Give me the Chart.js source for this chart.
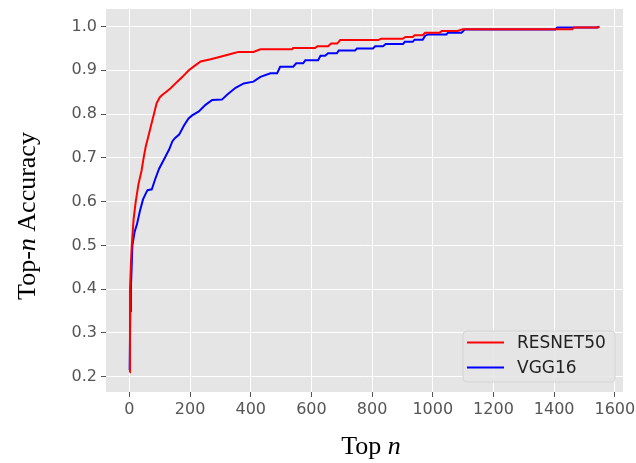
<!DOCTYPE html>
<html>
<head>
<meta charset="utf-8">
<script src="https://cdn.jsdelivr.net/npm/chart.js@4/dist/chart.umd.min.js"></script>
<style>
  html, body { margin: 0; padding: 0; background: #fff; }
  canvas { display: block; }
</style>
</head>
<body>
<canvas id="accChart" width="636" height="463"></canvas>
<script>
// values
const resnetN = [1, 2, 5, 8, 14, 21, 30, 40, 47, 54, 60, 70, 81, 90, 100, 109, 120, 136, 158, 175, 196, 215, 235, 268, 300, 343, 360, 409, 432, 536, 540, 612, 620, 655, 665, 685, 695, 820, 830, 901, 910, 934, 940, 967, 975, 1023, 1030, 1082, 1099, 1460, 1465, 1545, 1550];
const resnetAcc = [0.21, 0.40, 0.46, 0.50, 0.56, 0.60, 0.64, 0.67, 0.70, 0.726, 0.742, 0.77, 0.80, 0.825, 0.838, 0.844, 0.85, 0.859, 0.874, 0.885, 0.90, 0.91, 0.92, 0.925, 0.931, 0.939, 0.942, 0.942, 0.948, 0.948, 0.951, 0.951, 0.955, 0.955, 0.961, 0.961, 0.969, 0.969, 0.972, 0.972, 0.976, 0.976, 0.98, 0.98, 0.986, 0.986, 0.99, 0.99, 0.994, 0.994, 0.998, 0.998, 1.0];

const vggN = [1, 3, 5, 10, 17, 25, 35, 45, 55, 60, 74, 85, 98, 114, 131, 142, 150, 164, 180, 195, 207, 229, 251, 273, 305, 322, 350, 377, 409, 432, 465, 487, 497, 540, 550, 573, 580, 622, 630, 645, 655, 684, 690, 744, 750, 803, 810, 836, 845, 902, 908, 934, 940, 967, 975, 985, 1045, 1050, 1095, 1105, 1404, 1410, 1542, 1547];
const vggAcc = [0.215, 0.35, 0.40, 0.50, 0.53, 0.548, 0.579, 0.605, 0.62, 0.626, 0.628, 0.651, 0.675, 0.696, 0.719, 0.738, 0.745, 0.753, 0.774, 0.79, 0.797, 0.806, 0.821, 0.832, 0.833, 0.844, 0.86, 0.87, 0.874, 0.885, 0.893, 0.893, 0.908, 0.908, 0.916, 0.916, 0.923, 0.923, 0.933, 0.933, 0.939, 0.939, 0.945, 0.945, 0.95, 0.95, 0.955, 0.955, 0.96, 0.96, 0.965, 0.965, 0.97, 0.97, 0.979, 0.982, 0.982, 0.986, 0.986, 0.993, 0.993, 0.998, 0.998, 1.0];

const seriesLabels = ['RESNET50', 'VGG16'];
const xTicks = [0, 200, 400, 600, 800, 1000, 1200, 1400, 1600];
const yTicks = [0.2, 0.3, 0.4, 0.5, 0.6, 0.7, 0.8, 0.9, 1.0];

const toPoints = (xs, ys) => xs.map((x, i) => ({ x: x, y: ys[i] }));

// grey ggplot-like panel behind the data
const panelBg = {
  id: 'panelBg',
  beforeDraw(chart) {
    const { ctx, chartArea: a } = chart;
    ctx.save();
    ctx.fillStyle = '#E5E5E5';
    ctx.fillRect(a.left, a.top, a.right - a.left, a.bottom - a.top);
    ctx.restore();
  }
};

// axis titles with italic n, plus the legend box
const extras = {
  id: 'extras',
  afterDraw(chart) {
    const { ctx } = chart;
    const serif = '"Liberation Serif", "Times New Roman", serif';
    ctx.save();
    ctx.fillStyle = '#000';
    ctx.textBaseline = 'middle';

    // x title: "Top n"
    ctx.font = '26px ' + serif;
    const w1 = ctx.measureText('Top ').width;
    ctx.font = 'italic 26px ' + serif;
    const w2 = ctx.measureText('n').width;
    let x0 = 371 - (w1 + w2) / 2;
    ctx.textAlign = 'left';
    ctx.font = '26px ' + serif;
    ctx.fillText('Top ', x0, 447);
    ctx.font = 'italic 26px ' + serif;
    ctx.fillText('n', x0 + w1, 447);

    // y title: "Top-n Accuracy"
    ctx.save();
    ctx.translate(28, 216);
    ctx.rotate(-Math.PI / 2);
    ctx.font = '26px ' + serif;
    const p1 = ctx.measureText('Top-').width;
    const p3 = ctx.measureText(' Accuracy').width;
    ctx.font = 'italic 26px ' + serif;
    const p2 = ctx.measureText('n').width;
    let s = -(p1 + p2 + p3) / 2;
    ctx.font = '26px ' + serif;
    ctx.fillText('Top-', s, 0);
    ctx.font = 'italic 26px ' + serif;
    ctx.fillText('n', s + p1, 0);
    ctx.font = '26px ' + serif;
    ctx.fillText(' Accuracy', s + p1 + p2, 0);
    ctx.restore();

    // legend
    const bx = 463, by = 331, bw = 152, bh = 51, r = 4;
    ctx.beginPath();
    ctx.moveTo(bx + r, by);
    ctx.arcTo(bx + bw, by, bx + bw, by + bh, r);
    ctx.arcTo(bx + bw, by + bh, bx, by + bh, r);
    ctx.arcTo(bx, by + bh, bx, by, r);
    ctx.arcTo(bx, by, bx + bw, by, r);
    ctx.closePath();
    ctx.fillStyle = 'rgba(229,229,229,0.85)';
    ctx.fill();
    ctx.strokeStyle = '#D4D4D4';
    ctx.lineWidth = 1;
    ctx.stroke();

    ctx.font = '17px "DejaVu Sans", sans-serif';
    chart.data.datasets.forEach((ds, i) => {
      const ly = 342.5 + i * 25;
      ctx.strokeStyle = ds.borderColor;
      ctx.lineWidth = 2;
      ctx.beginPath();
      ctx.moveTo(467, ly);
      ctx.lineTo(504, ly);
      ctx.stroke();
      ctx.fillStyle = '#222';
      ctx.fillText(ds.label, 517, ly + 1);
    });
    ctx.restore();
  }
};

const ctx = document.getElementById('accChart').getContext('2d');

new Chart(ctx, {
  type: 'line',
  data: {
    datasets: [
      {
        label: seriesLabels[0],
        data: toPoints(resnetN, resnetAcc),
        borderColor: '#FF0000',
        borderWidth: 2,
        pointRadius: 0,
        tension: 0,
        fill: false
      },
      {
        label: seriesLabels[1],
        data: toPoints(vggN, vggAcc),
        borderColor: '#0000FF',
        borderWidth: 2,
        pointRadius: 0,
        tension: 0,
        fill: false
      }
    ]
  },
  options: {
    responsive: false,
    animation: false,
    layout: { padding: { left: 0, right: 13, top: 9, bottom: 0 } },
    plugins: {
      legend: { display: false },
      tooltip: { enabled: false }
    },
    scales: {
      x: {
        type: 'linear',
        min: -77,
        max: 1627,
        afterBuildTicks: axis => { axis.ticks = xTicks.map(v => ({ value: v })); },
        afterFit: scale => { scale.height = 71; scale.paddingLeft = 0; scale.paddingRight = 0; },
        grid: { color: '#FFFFFF', lineWidth: 1, tickColor: '#555', tickLength: 5 },
        border: { display: false },
        ticks: {
          color: '#555',
          font: { family: 'DejaVu Sans', size: 16 },
          padding: 3,
          maxRotation: 0,
          callback: v => String(v)
        }
      },
      y: {
        type: 'linear',
        min: 0.165,
        max: 1.04,
        afterBuildTicks: axis => { axis.ticks = yTicks.map(v => ({ value: v })); },
        afterFit: scale => { scale.width = 106; scale.paddingTop = 0; scale.paddingBottom = 0; },
        grid: { color: '#FFFFFF', lineWidth: 1, tickColor: '#555', tickLength: 5 },
        border: { display: false },
        ticks: {
          color: '#555',
          font: { family: 'DejaVu Sans', size: 16 },
          padding: 4,
          callback: v => v.toFixed(1)
        }
      }
    }
  },
  plugins: [panelBg, extras]
});
</script>
</body>
</html>
